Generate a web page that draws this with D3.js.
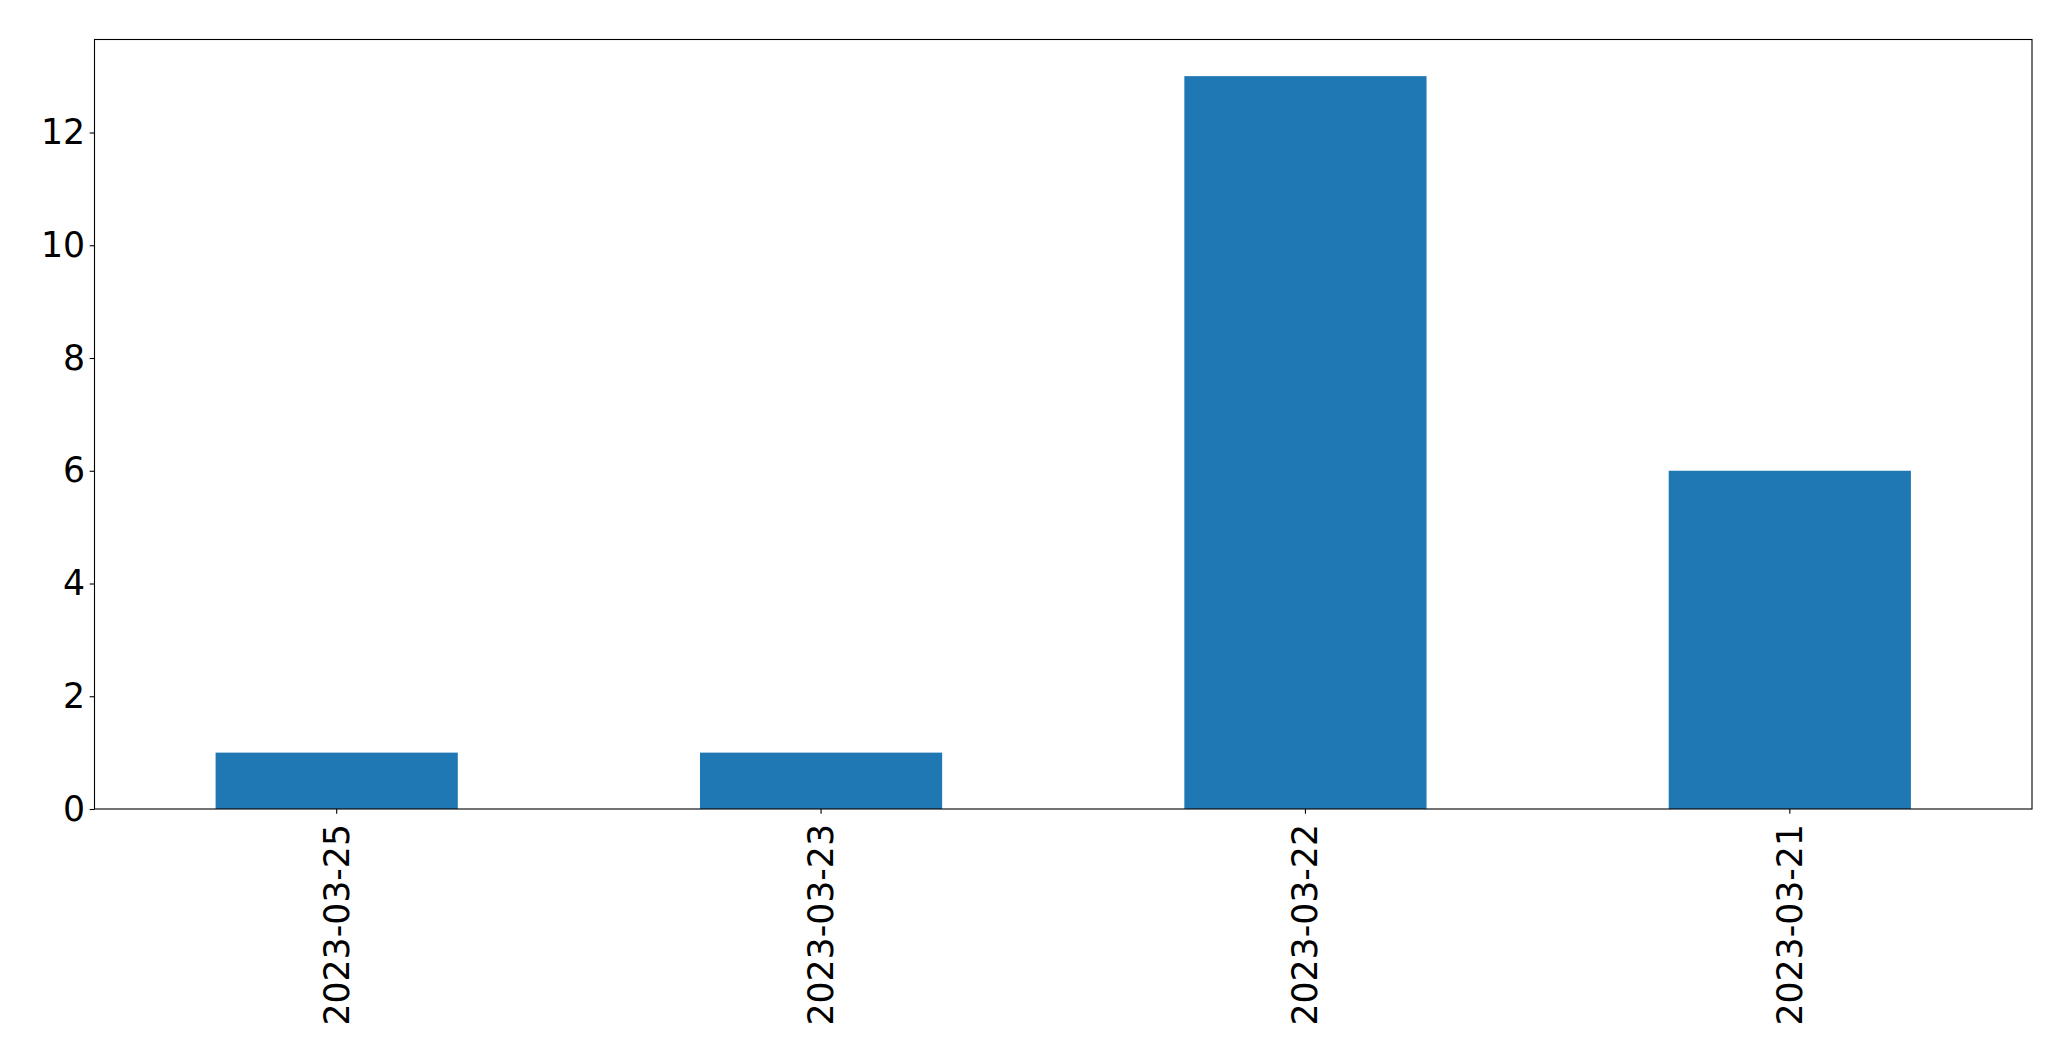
<!DOCTYPE html>
<html>
<head>
<meta charset="utf-8">
<script src="https://cdn.jsdelivr.net/npm/d3@7"></script>
<style>
  html, body { margin: 0; padding: 0; background: #fff; }
  svg { display: block; }
  text { font-family: "DejaVu Sans", sans-serif; fill: #000; }
</style>
</head>
<body>
<svg id="chart" width="2071" height="1061"></svg>
<script>
const categories = ["2023-03-25", "2023-03-23", "2023-03-22", "2023-03-21"];
const values = [1, 1, 13, 6];
const yTicks = [0, 2, 4, 6, 8, 10, 12];

const W = 2071, H = 1061;
const margin = { left: 94.5, right: 2071 - 2032, top: 39.5, bottom: 1061 - 809 };
const fontSize = 34.7;

const svg = d3.select("#chart");
const x = d3.scaleBand().domain(categories).range([margin.left, W - margin.right]).paddingInner(0.5).paddingOuter(0.25);
const yMax = d3.max(values) * 1.05;
const y = d3.scaleLinear().domain([0, yMax]).range([H - margin.bottom, margin.top]);

// bars
svg.append("g").selectAll("rect").data(values).join("rect")
  .attr("x", (d, i) => x(categories[i]))
  .attr("y", d => y(d))
  .attr("width", x.bandwidth())
  .attr("height", d => y(0) - y(d))
  .attr("fill", "#1f77b4");

// y axis
const yAxis = d3.axisLeft(y).tickValues(yTicks).tickSize(4.86).tickPadding(4.5).tickFormat(d3.format("d"));
const gy = svg.append("g").attr("transform", `translate(${margin.left},0)`).call(yAxis);
gy.select(".domain").remove();
gy.selectAll(".tick line").attr("stroke", "#000").attr("stroke-width", 1.1);
gy.selectAll(".tick text").style("font-size", fontSize + "px").attr("fill", "#000").attr("font-family", "DejaVu Sans");

// x axis
const xAxis = d3.axisBottom(x).tickSize(4.86).tickPadding(0);
const gx = svg.append("g").attr("transform", `translate(0,${H - margin.bottom})`).call(xAxis);
gx.select(".domain").remove();
gx.selectAll(".tick line").attr("stroke", "#000").attr("stroke-width", 1.1);
gx.selectAll(".tick text")
  .style("font-size", fontSize + "px").attr("fill", "#000").attr("font-family", "DejaVu Sans")
  .attr("y", 0).attr("dy", null)
  .attr("text-anchor", "end")
  .attr("dominant-baseline", "central")
  .attr("transform", "translate(0,15) rotate(-90)");

// frame
svg.append("rect")
  .attr("x", margin.left).attr("y", margin.top)
  .attr("width", W - margin.right - margin.left)
  .attr("height", H - margin.bottom - margin.top)
  .attr("fill", "none").attr("stroke", "#000").attr("stroke-width", 1.1);
</script>
</body>
</html>
